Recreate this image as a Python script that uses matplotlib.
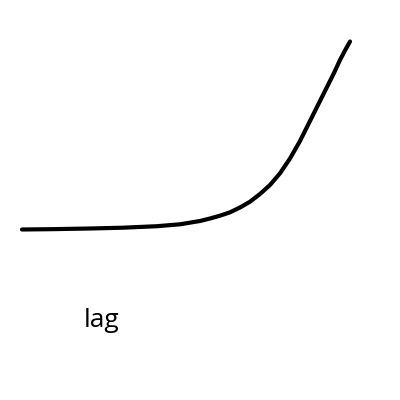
import matplotlib
matplotlib.use("Agg")
import matplotlib.pyplot as plt
import numpy as np

# curve (pixel coords, y grows downward)
curve_x = [22, 50, 90, 123, 157, 180, 200, 210, 220, 230, 240, 250, 260, 270, 280, 290, 300, 308, 318, 327, 334, 340, 345, 350]
curve_y = [229.5, 229.2, 228.5, 227.7, 226.2, 224.3, 221, 218.5, 215.7, 212.3, 207.5, 201.7, 194, 185, 173.3, 158.5, 141, 125, 105, 87, 73, 60, 50.5, 41.5]
label_text = "lag"

fig = plt.figure(figsize=(4, 4), dpi=100)
ax = fig.add_axes([0, 0, 1, 1])
ax.set_xlim(0, 400)
ax.set_ylim(400, 0)
ax.axis("off")

ax.plot(curve_x, curve_y, color="black", lw=3.0, solid_capstyle="round", solid_joinstyle="round")
ax.text(84, 327, label_text, fontsize=19, family="Open Sans", ha="left", va="baseline", color="black")

fig.savefig("out.png", dpi=100, facecolor="white")
